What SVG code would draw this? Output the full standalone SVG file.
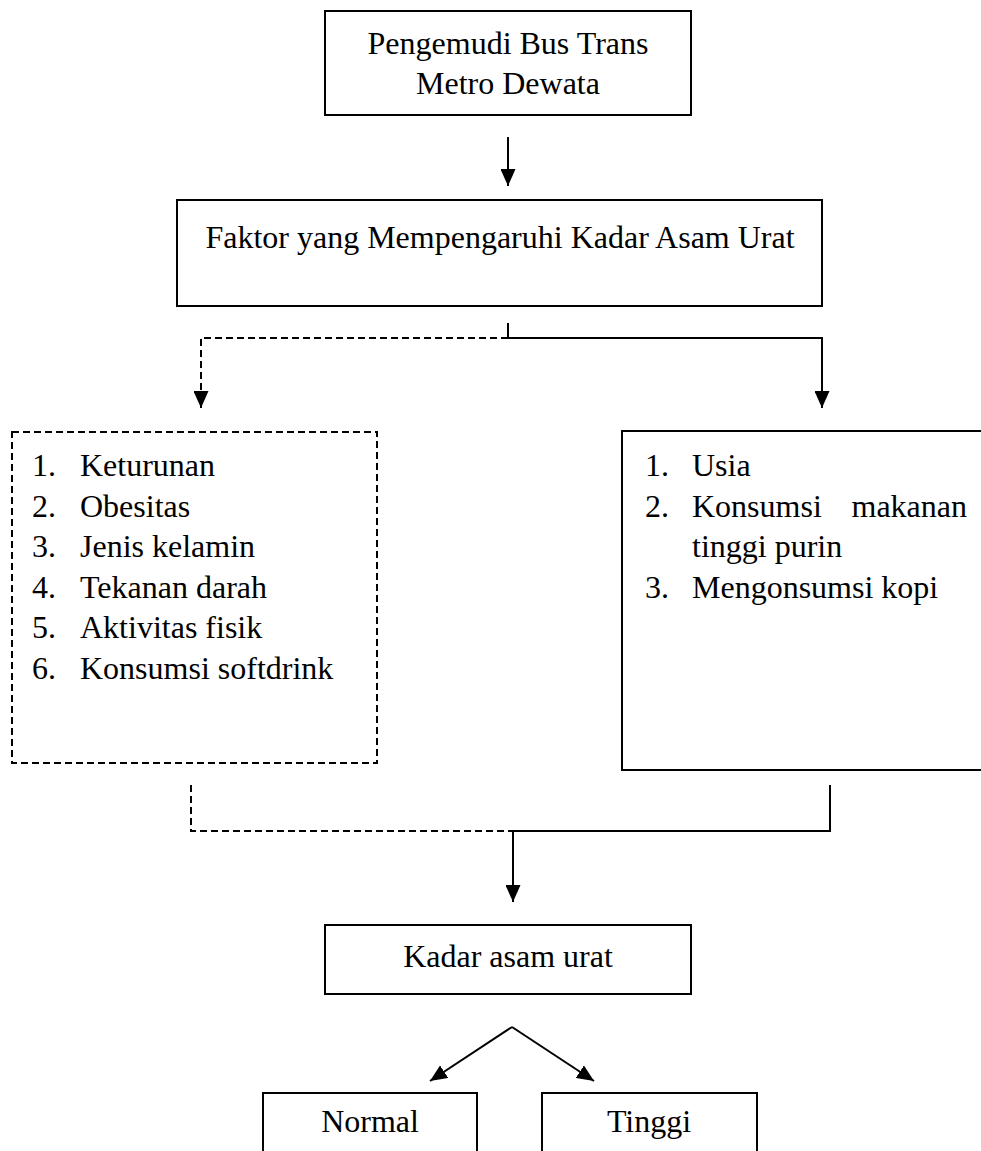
<svg xmlns="http://www.w3.org/2000/svg" width="981" height="1151" viewBox="0 0 981 1151">
<style>
.box{fill:#fff;stroke:#000;stroke-width:2}
.dbox{fill:#fff;stroke:#000;stroke-width:2;stroke-dasharray:7 4}
.ln{fill:none;stroke:#000;stroke-width:2}
.dln{fill:none;stroke:#000;stroke-width:2;stroke-dasharray:7 4}
text{font-family:"Liberation Serif","Times New Roman",serif;font-size:32px;fill:#000}
.c{text-anchor:middle}
</style>
<defs>
<marker id="ah" markerUnits="userSpaceOnUse" markerWidth="17" markerHeight="15" refX="17" refY="7.5" orient="auto" viewBox="0 0 17 15">
<path d="M0,0 L17,7.5 L0,15 z" fill="#000"/>
</marker>
</defs>
<rect width="981" height="1151" fill="#fff"/>
<g id="connectors">
<path class="ln" d="M508,137 V186" marker-end="url(#ah)"/>
<path class="ln" d="M508,323 V338 H822 V408" marker-end="url(#ah)"/>
<path class="dln" d="M508,338 H201 V408" marker-end="url(#ah)"/>
<path class="dln" d="M191,785 V831 H513"/>
<path class="ln" d="M830,785 V831 H513 V902" marker-end="url(#ah)"/>
<path class="ln" d="M512,1027 L430,1081" marker-end="url(#ah)"/>
<path class="ln" d="M512,1027 L594,1081" marker-end="url(#ah)"/>
</g>
<g id="n1">
<rect class="box" x="325" y="11" width="366" height="104"/>
<text class="c" x="508" y="54">Pengemudi Bus Trans</text>
<text class="c" x="508" y="94">Metro Dewata</text>
</g>
<g id="n2">
<rect class="box" x="177" y="200" width="645" height="106"/>
<text class="c" x="500" y="248">Faktor yang Mempengaruhi Kadar Asam Urat</text>
</g>
<g id="n3">
<rect class="dbox" x="12" y="432" width="365" height="331"/>
<text x="32" y="476">1.</text><text x="80" y="476">Keturunan</text>
<text x="32" y="516.5">2.</text><text x="80" y="516.5">Obesitas</text>
<text x="32" y="557">3.</text><text x="80" y="557">Jenis kelamin</text>
<text x="32" y="597.5">4.</text><text x="80" y="597.5">Tekanan darah</text>
<text x="32" y="638">5.</text><text x="80" y="638">Aktivitas fisik</text>
<text x="32" y="678.5">6.</text><text x="80" y="678.5">Konsumsi softdrink</text>
</g>
<g id="n4">
<path class="box" d="M983,431 H622 V770 H983"/>
<text x="645" y="476">1.</text><text x="692" y="476">Usia</text>
<text x="645" y="516.5">2.</text><text x="692" y="516.5">Konsumsi</text><text x="967" y="516.5" text-anchor="end">makanan</text>
<text x="692" y="557">tinggi purin</text>
<text x="645" y="597.5">3.</text><text x="692" y="597.5">Mengonsumsi kopi</text>
</g>
<g id="n5">
<rect class="box" x="325" y="925" width="366" height="69"/>
<text class="c" x="508" y="967">Kadar asam urat</text>
</g>
<g id="n6">
<path class="box" d="M263,1153 V1093 H477 V1153"/>
<text class="c" x="370" y="1132">Normal</text>
</g>
<g id="n7">
<path class="box" d="M542,1153 V1093 H757 V1153"/>
<text class="c" x="649" y="1132">Tinggi</text>
</g>
</svg>
